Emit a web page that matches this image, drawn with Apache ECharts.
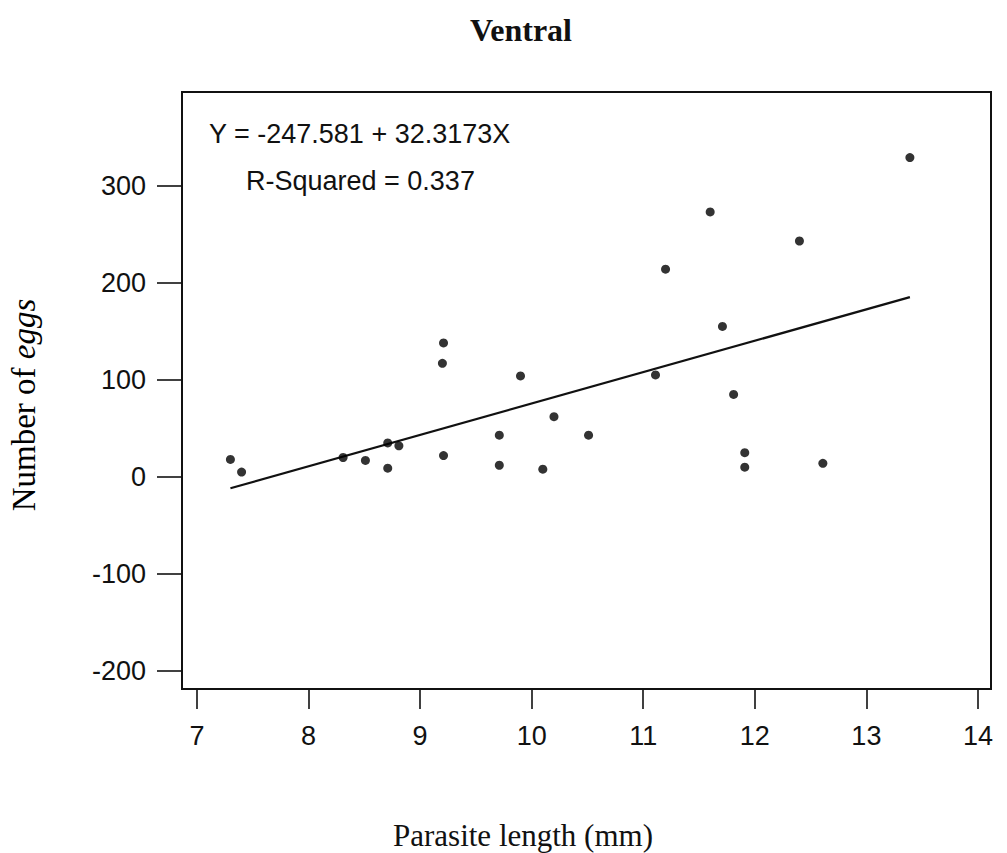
<!DOCTYPE html>
<html>
<head>
<meta charset="utf-8">
<title>Ventral</title>
<script src="https://cdn.jsdelivr.net/npm/echarts@6/dist/echarts.min.js"></script>
<style>
  html, body { margin: 0; padding: 0; background: #fff; }
  #chart { width: 1007px; height: 853px; }
</style>
</head>
<body>
<div id="chart"></div>
<script>
// Parasite length (mm) and egg count for each ventral specimen
const lengthMm = [7.30, 7.40, 8.31, 8.51, 8.71, 8.81, 8.71, 9.21, 9.21, 9.20, 9.90, 10.20, 9.71,
                  10.51, 9.71, 10.10, 11.11, 11.60, 12.40, 11.20, 11.71, 11.81, 11.91, 11.91, 12.61, 13.39];
const eggCount = [18, 5, 20, 17, 35, 32, 9, 22, 138, 117, 104, 62, 43,
                  43, 12, 8, 105, 273, 243, 214, 155, 85, 25, 10, 14, 329];

// Fitted least-squares line, as printed on the plot
const intercept = -247.581;
const slope = 32.3173;
const rSquared = 0.337;

// Axis tick values
const xTicks = [7, 8, 9, 10, 11, 12, 13, 14];
const yTicks = [-200, -100, 0, 100, 200, 300];

const points = lengthMm.map((x, i) => [x, eggCount[i]]);
const xLo = Math.min(...lengthMm);
const xHi = Math.max(...lengthMm);
const fitLine = [xLo, xHi].map(x => [x, intercept + slope * x]);

const SANS = '"Liberation Sans", Arial, Helvetica, sans-serif';
const SERIF = '"Liberation Serif", "Times New Roman", serif';

const chart = echarts.init(document.getElementById('chart'), null, { renderer: 'svg' });

chart.setOption({
  backgroundColor: '#ffffff',
  animation: false,
  title: {
    text: 'Ventral',
    left: 516,
    top: 9,
    textAlign: 'center',
    textStyle: { fontFamily: SERIF, fontSize: 32, fontWeight: 'bold', color: '#111' }
  },
  grid: {
    left: 182, right: 16, top: 92, bottom: 164,
    show: true, borderColor: '#111', borderWidth: 2, backgroundColor: 'transparent'
  },
  xAxis: {
    type: 'value',
    min: 6.866, max: 14.117,
    axisLine: { show: false, onZero: false },
    splitLine: { show: false },
    axisTick: {
      show: true, inside: false, length: 20, customValues: xTicks,
      lineStyle: { color: '#111', width: 1.6 }
    },
    axisLabel: {
      customValues: xTicks, margin: 33,
      fontFamily: SANS, fontSize: 27, color: '#111'
    }
  },
  yAxis: {
    type: 'value',
    min: -218.5, max: 396.5,
    axisLine: { show: false, onZero: false },
    splitLine: { show: false },
    axisTick: {
      show: true, inside: false, length: 25, customValues: yTicks,
      lineStyle: { color: '#111', width: 1.6 }
    },
    axisLabel: {
      customValues: yTicks, margin: 36,
      fontFamily: SANS, fontSize: 27, color: '#111'
    }
  },
  graphic: [
    {
      type: 'text', left: 209, top: 120,
      style: {
        text: `Y = ${intercept} + ${slope}X`,
        font: `27px ${SANS}`, fill: '#111'
      }
    },
    {
      type: 'text', left: 246, top: 167,
      style: {
        text: `R-Squared = ${rSquared}`,
        font: `27px ${SANS}`, fill: '#111'
      }
    },
    {
      type: 'text', x: 523, y: 835,
      style: {
        text: 'Parasite length (mm)',
        font: `31px ${SERIF}`, fill: '#111',
        textAlign: 'center', textVerticalAlign: 'middle'
      }
    },
    {
      type: 'text', x: 24, y: 405, rotation: Math.PI / 2,
      style: {
        text: '{n|Number of }{i|eggs}',
        textAlign: 'center', textVerticalAlign: 'middle',
        rich: {
          n: { fontFamily: SERIF, fontSize: 33, color: '#111' },
          i: { fontFamily: SERIF, fontSize: 33, fontStyle: 'italic', color: '#111' }
        }
      }
    }
  ],
  series: [
    {
      name: 'Fit',
      type: 'line',
      data: fitLine,
      showSymbol: false,
      symbol: 'none',
      lineStyle: { color: '#111', width: 2.2 },
      z: 2
    },
    {
      name: 'Specimens',
      type: 'scatter',
      data: points,
      symbol: 'circle',
      symbolSize: 9,
      itemStyle: { color: '#000' },
      z: 3
    }
  ]
});
</script>
</body>
</html>
